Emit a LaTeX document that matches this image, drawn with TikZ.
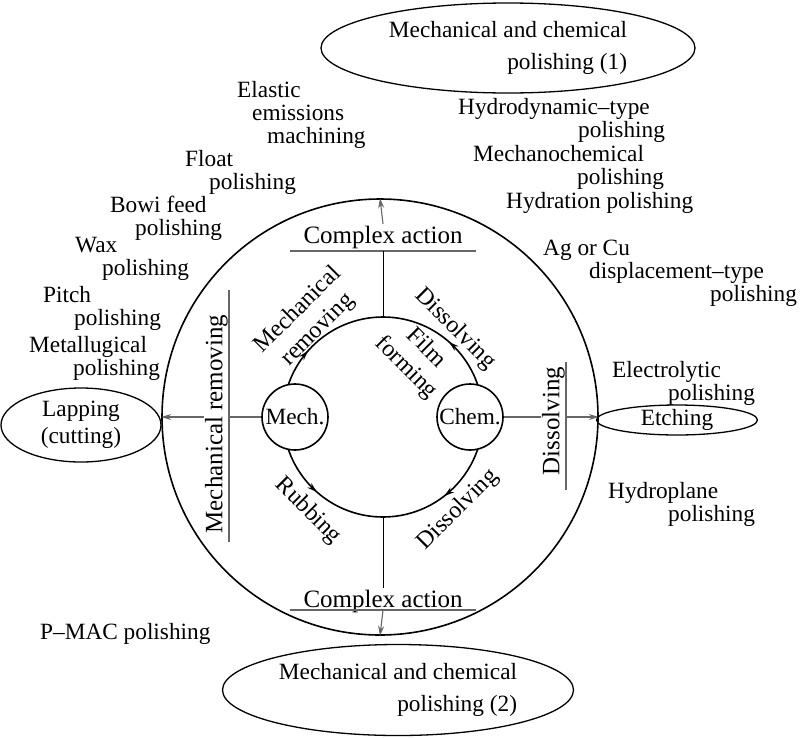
\documentclass[tikz,border=0pt]{standalone}
\usepackage{fontspec}
\setmainfont{Liberation Serif}
\usetikzlibrary{positioning, calc, arrows.meta, shapes.geometric, decorations.markings}

\begin{document}
\begin{tikzpicture}[
  x=1pt, y=1pt,
  >={Stealth[length=10pt, width=6pt]},
  font=\fontsize{23.3}{23}\selectfont,
  rim/.style    = {line width=1.6pt},
  wheel/.style  = {draw, circle, rim, inner sep=0pt},
  agent/.style  = {wheel, fill=white, minimum size=66pt},
  spoke/.style  = {line width=0.9pt},
  lead/.style   = {line width=1.1pt, black!60},
  act/.style    = {font=\fontsize{25}{28}\selectfont, anchor=south, minimum width=186pt, inner xsep=0pt, inner ysep=2pt},
  side/.style   = {font=\fontsize{25}{28}\selectfont, rotate=90, anchor=south, inner xsep=0pt, inner ysep=1pt},
  arclbl/.style = {font=\fontsize{24}{28}\selectfont, align=center, inner sep=0pt},
  method/.style = {draw, ellipse, line width=1.3pt, inner sep=0pt, align=center},
  tag/.style    = {anchor=north west, inner sep=0pt, align=left},
  turn/.style   = {postaction={decorate}, decoration={markings, mark=at position #1 with {\arrow{>}}}},
]
  \useasboundingbox (0,0) rectangle (800,-737);

  \node[wheel, minimum size=436pt] (outer) at (380,-417) {};
  \coordinate (hub) at (383,-417);

  \draw[rim, turn=0.46] ([shift={(180:100)}]hub) arc[start angle=180, end angle=90,  radius=100];
  \draw[rim, turn=0.54] ([shift={(0:100)}]hub)   arc[start angle=0,   end angle=90,  radius=100];
  \draw[rim, turn=0.54] ([shift={(180:100)}]hub) arc[start angle=180, end angle=270, radius=100];
  \draw[rim, turn=0.58] ([shift={(0:100)}]hub)   arc[start angle=0,   end angle=-90, radius=100];

  \node[agent] (Mech) at (295,-417) {Mech.};
  \node[agent] (Chem) at (470,-417) {Chem.};

  \node[act]                  (topact) at (383,-251) {Complex action};
  \node[act, text depth=0pt]  (botact) at (383,-610) {Complex action};
  \draw[lead] (topact.south west) -- (topact.south east);
  \draw[lead] (botact.south west) -- (botact.south east);
  \draw[spoke] ([shift={(90:100)}]hub)  -- (topact.south);
  \draw[spoke] ([shift={(270:100)}]hub) -- (botact.north);
  \draw[lead, ->] (topact.north) -- (outer.north);
  \draw[lead, ->] (botact.south) -- (outer.south);

  \node[side] (mechside) at (229,-424) {Mechanical removing};
  \node[side] (dissside) at (566,-421) {Dissolving};
  \draw[lead] ([yshift=134]mechside.south) -- ([yshift=-118]mechside.south);
  \draw[lead] ([yshift=59]dissside.south) -- ([yshift=-69]dissside.south);
  \draw[lead] (Mech.west) -- (Mech.west -| mechside.south);
  \draw[lead, ->] (Mech.west -| mechside.north) -- (outer.west);
  \draw[lead] (Chem.east) -- (Chem.east -| dissside.north);
  \draw[lead, ->] (Chem.east -| dissside.south) -- (outer.east);

  \node[arclbl, rotate=45]  (mremove) at (308,-320) {Mechanical\\removing};
  \node[arclbl, rotate=-45] (disstop) at (455,-329) {Dissolving};
  \node[arclbl, rotate=-45] (film)    at (416,-358) {Film\\forming};
  \node[arclbl, rotate=-45] (rub)     at (308,-511) {Rubbing};
  \node[arclbl, rotate=45]  (dissbot) at (458,-510) {Dissolving};

  \node[method, align=right, font=\fontsize{23.3}{32}\selectfont,
        minimum width=374pt, minimum height=90pt] (mcp1) at (508,-48) {Mechanical and chemical\\polishing (1)};
  \node[method, align=right, font=\fontsize{23.3}{32}\selectfont,
        minimum width=351pt, minimum height=91pt] (mcp2) at (398,-690) {Mechanical and chemical\\polishing (2)};
  \node[method, font=\fontsize{23.3}{27}\selectfont,
        minimum width=160pt, minimum height=74pt] (lapping) at (81,-425) {Lapping\\(cutting)};
  \node[method, minimum width=161pt, minimum height=29pt] (etching) at (677,-420) {Etching};

  \node[tag] (eem)       at (237,-81)  {Elastic\\\hspace*{15pt}emissions\\\hspace*{30pt}machining};
  \node[tag] (float)     at (185,-150) {Float\\\hspace*{24pt}polishing};
  \node[tag] (bowi)      at (110,-196) {Bowi feed\\\hspace*{25pt}polishing};
  \node[tag] (wax)       at (75,-237)  {Wax\\\hspace*{27pt}polishing};
  \node[tag] (pitch)     at (43,-286)  {Pitch\\\hspace*{31pt}polishing};
  \node[tag] (metal)     at (29,-336)  {Metallugical\\\hspace*{44pt}polishing};
  \node[tag] (hydro)     at (458,-98)  {Hydrodynamic–type\\\hspace*{120pt}polishing};
  \node[tag] (mechano)   at (473,-145) {Mechanochemical\\\hspace*{104pt}polishing};
  \node[tag] (hydration) at (506,-192) {Hydration polishing};
  \node[tag] (agcu)      at (543,-240) {Ag or Cu\\\hspace*{46pt}displacement–type\\\hspace*{167pt}polishing};
  \node[tag] (electro)   at (612,-361) {Electrolytic\\\hspace*{56pt}polishing};
  \node[tag] (hplane)    at (608,-482) {Hydroplane\\\hspace*{60pt}polishing};
  \node[tag] (pmac)      at (40,-623)  {P–MAC polishing};
\end{tikzpicture}
\end{document}
